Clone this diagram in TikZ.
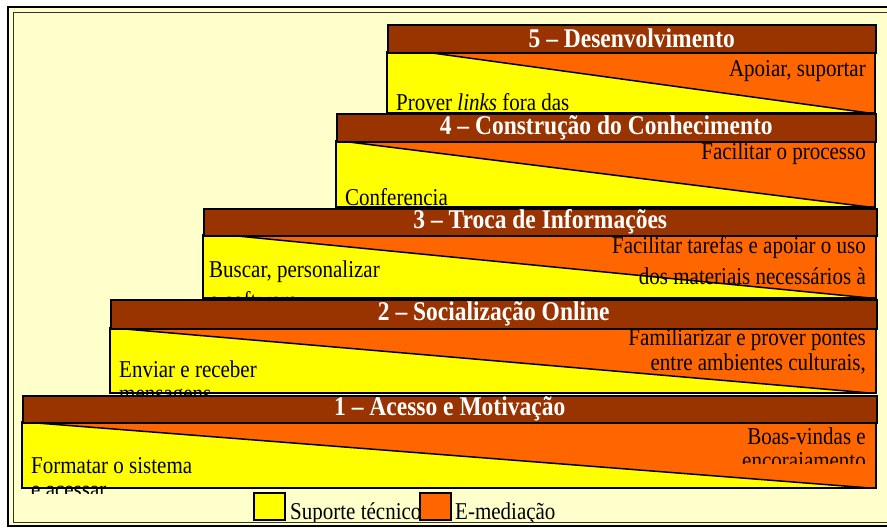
\documentclass[tikz,border=0pt]{standalone}
\usepackage{fontspec}
\setmainfont{Liberation Serif}
\definecolor{bgyel}{HTML}{FFFFCC}
\definecolor{hdrbrown}{HTML}{993300}
\definecolor{orng}{HTML}{FF6600}
\definecolor{yel}{HTML}{FFFF00}
\newcommand\tall[1]{\scalebox{1}[1.15]{#1}}
\tikzset{
  hdrbox/.style={draw=black, line width=1.5pt, fill=hdrbrown, text=white, inner sep=0pt,
    font=\fontsize{23.5}{26}\selectfont\bfseries, anchor=north west},
  bodytext/.style={font=\fontsize{21}{24}\selectfont, inner sep=0pt, text=black},
  ltext/.style={bodytext, anchor=west},
  rtext/.style={bodytext, anchor=east},
  legbox/.style={draw=black, line width=1.5pt, minimum width=31pt, minimum height=27pt, anchor=north west, inner sep=0pt},
}
\newcommand\stageblock[8]{%
  \fill[yel] (#1,#4) rectangle (#2,#5);
  \fill[orng] ({#1+#6},#4) -- (#2,#4) -- (#2,#5) -- ({#2-6},#5) -- cycle;
  \draw[line width=1.5pt] ({#1+#6},#4) -- ({#2-6},#5);
  \draw[line width=1.5pt] (#1,#4) rectangle (#2,#5);
  \node[hdrbox, minimum width={#2-#1}, minimum height={#4-#3}] (#7) at (#1,#3) {\tall{#8}};
}
\begin{document}
\begin{tikzpicture}[x=1pt,y=-1pt]
\useasboundingbox (0,0) rectangle (887,528);
\fill[white] (0,0) rectangle (887,528);
% frame
\draw[line width=2pt, fill=bgyel] (8,7) rectangle (900,526);
\draw[line width=1pt, draw=black!80] (13,12) rectangle (895,522);

% stage 5
\stageblock{387}{875}{24}{52}{113}{38}{h5}{5 – Desenvolvimento}
\node[rtext] (r5) at (866,71) {\tall{Apoiar, suportar}};
\node[ltext] (l5) at (396,102) {\tall{Prover \textit{links} fora das}};

% stage 4
\stageblock{336}{875}{113}{141}{207}{5}{h4}{4 – Construção do Conhecimento}
\node[rtext] (r4) at (866,154) {\tall{Facilitar o processo}};
\node[ltext] (l4) at (345,197) {\tall{Conferencia}};

% stage 3
\stageblock{203}{876}{208}{235}{298}{24}{h3}{3 – Troca de Informações}
\node[rtext] (r3a) at (866,248) {\tall{Facilitar tarefas e apoiar o uso}};
\node[rtext] (r3b) at (866,276) {\tall{dos materiais necessários à}};
\node[ltext] (l3a) at (209,272) {\tall{Buscar, personalizar}};
\node[ltext] (l3b) at (209,300) {\tall{o software}};

% stage 2
\stageblock{110}{876}{299}{328}{393}{3}{h2}{2 – Socialização Online}
\node[rtext] (r2a) at (866,340) {\tall{Familiarizar e prover pontes}};
\node[rtext] (r2b) at (866,364) {\tall{entre ambientes culturais,}};
\node[ltext] (l2a) at (119,369) {\tall{Enviar e receber}};
\node[ltext] (l2b) at (119,398) {\tall{mensagens}};

% stage 1
\stageblock{22}{876}{395}{422}{488}{2}{h1}{1 – Acesso e Motivação}
\node[rtext] (r1a) at (866,436) {\tall{Boas-vindas e}};
\begin{scope}
  \clip (700,440) rectangle (880,463);
  \node[rtext] (r1b) at (866,463) {\tall{encorajamento}};
\end{scope}
\node[ltext] (l1a) at (31,466) {\tall{Formatar o sistema}};
\begin{scope}
  \clip (25,475) rectangle (300,493);
  \node[ltext] (l1b) at (31,492) {\tall{e acessar}};
\end{scope}

% legend
\node[legbox, fill=yel] (ly) at (253,492) {};
\begin{scope}
  \clip (285,495) rectangle (600,521);
  \node[bodytext, anchor=base west] (lyt) at (290,519) {\tall{Suporte técnico}};
  \node[bodytext, anchor=base west] (lot) at (455,519) {\tall{E-mediação}};
\end{scope}
\node[legbox, fill=orng] (lo) at (419,492) {};
\end{tikzpicture}
\end{document}
